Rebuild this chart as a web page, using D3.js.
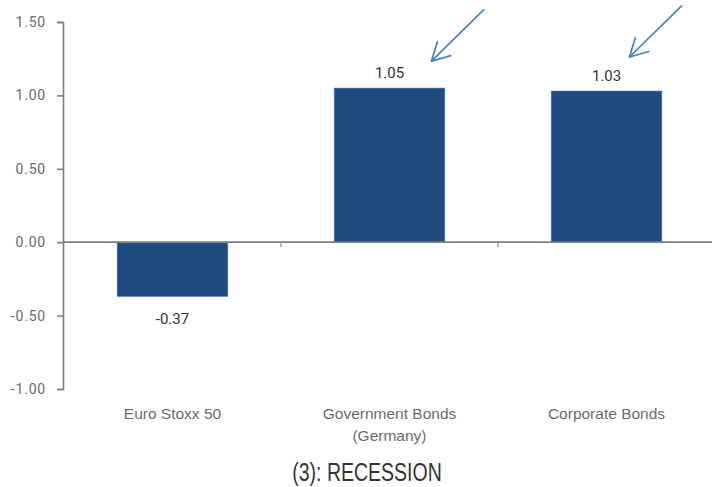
<!DOCTYPE html>
<html>
<head>
<meta charset="utf-8">
<script src="https://cdn.jsdelivr.net/npm/d3@7"></script>
<style>
  html, body { margin: 0; padding: 0; background: #fff; }
  svg { display: block; }
</style>
</head>
<body>
<svg id="chart" width="712" height="487"></svg>
<script>
// Asset classes and their values in the recession scenario
const categories = ["Euro Stoxx 50", "Government Bonds (Germany)", "Corporate Bonds"];
const categoryLines = [["Euro Stoxx 50"], ["Government Bonds", "(Germany)"], ["Corporate Bonds"]];
const values = [-0.37, 1.05, 1.03];
const yTicks = [-1.0, -0.5, 0.0, 0.5, 1.0, 1.5];
const highlighted = ["Government Bonds (Germany)", "Corporate Bonds"];
const title = "(3): RECESSION";

const svg = d3.select("#chart");
const barColor = "#1f4a7d";
const axisColor = "#7f7f7f";
const arrowColor = "#4a7fc1";

const y = d3.scaleLinear().domain([-1, 1.5]).range([389, 22]);
const x = d3.scaleBand().domain(categories).range([64, 715]).paddingInner(0.49).paddingOuter(0.245);

// y axis (plain hyphen for negatives)
const fmt = d => d.toFixed(2);
const yAxis = d3.axisLeft(y).tickValues(yTicks).tickFormat(fmt).tickSize(6).tickPadding(11);
const gy = svg.append("g").attr("transform", "translate(63,0)").call(yAxis);
gy.select(".domain").attr("stroke", axisColor).attr("stroke-width", 1.6);
gy.selectAll(".tick line").attr("stroke", axisColor).attr("stroke-width", 1.6);
gy.selectAll(".tick text")
  .attr("fill", "#6b6b6b")
  .style("font-family", "Roboto, 'Liberation Sans', sans-serif")
  .style("font-size", "14px")
  .style("letter-spacing", "0.8px");

// bars
svg.append("g").selectAll("rect").data(values).join("rect")
  .attr("x", (d, i) => x(categories[i]))
  .attr("width", x.bandwidth())
  .attr("y", d => y(Math.max(0, d)))
  .attr("height", d => Math.abs(y(d) - y(0)))
  .attr("fill", barColor)
  .attr("stroke", "#5b7fae")
  .attr("stroke-width", 0.6);

// zero baseline with category separators
svg.append("line")
  .attr("x1", 63).attr("x2", 712)
  .attr("y1", y(0)).attr("y2", y(0))
  .attr("stroke", axisColor).attr("stroke-width", 1.8);
svg.append("g").selectAll("line").data(categories.slice(1)).join("line")
  .attr("x1", d => x(d) - x.step() * x.paddingInner() / 2)
  .attr("x2", d => x(d) - x.step() * x.paddingInner() / 2)
  .attr("y1", y(0)).attr("y2", y(0) + 5)
  .attr("stroke", axisColor).attr("stroke-width", 1);

// value labels
svg.append("g").selectAll("text").data(values).join("text")
  .attr("x", (d, i) => x(categories[i]) + x.bandwidth() / 2)
  .attr("y", d => d >= 0 ? y(d) - 10 : y(d) + 27)
  .attr("text-anchor", "middle")
  .attr("fill", "#333")
  .style("font-family", "Roboto, 'Liberation Sans', sans-serif")
  .style("font-size", "15px")
  .text(fmt);

// category labels
const cat = svg.append("g").selectAll("text").data(categoryLines).join("text")
  .attr("x", (d, i) => x(categories[i]) + x.bandwidth() / 2)
  .attr("y", 419)
  .attr("text-anchor", "middle")
  .attr("fill", "#6b6b6b")
  .style("font-family", "'Liberation Sans', Arial, sans-serif")
  .style("font-size", "15.5px");
cat.selectAll("tspan").data(d => d).join("tspan")
  .attr("x", function () { return d3.select(this.parentNode).attr("x"); })
  .attr("dy", (d, i) => i === 0 ? 0 : 22)
  .text(d => d);

// title, set in a narrow face
svg.append("text")
  .attr("transform", "translate(367,481) scale(0.75,1)")
  .attr("text-anchor", "middle")
  .attr("fill", "#333")
  .style("font-family", "'Liberation Sans', Arial, sans-serif")
  .style("font-size", "26px")
  .text(title);

// arrows pointing at the highlighted bond labels
const arrowTips = [{ dx: 42, dy: -27 }, { dx: 23, dy: -34 }];
const arrows = svg.append("g").attr("stroke", arrowColor).attr("stroke-width", 1.7)
  .attr("stroke-linecap", "round").attr("fill", "none");
highlighted.forEach((c, k) => {
  const i = categories.indexOf(c);
  const tipX = x(c) + x.bandwidth() / 2 + arrowTips[k].dx;
  const tipY = y(values[i]) + arrowTips[k].dy;
  const ang = Math.atan2(-51, 52);
  const len = 73;
  arrows.append("line")
    .attr("x1", tipX).attr("y1", tipY)
    .attr("x2", tipX + len * Math.cos(ang)).attr("y2", tipY + len * Math.sin(ang));
  [0.5, -0.5].forEach(off => {
    const a = ang + off;
    arrows.append("line")
      .attr("x1", tipX).attr("y1", tipY)
      .attr("x2", tipX + 20 * Math.cos(a)).attr("y2", tipY + 20 * Math.sin(a));
  });
});
</script>
</body>
</html>
